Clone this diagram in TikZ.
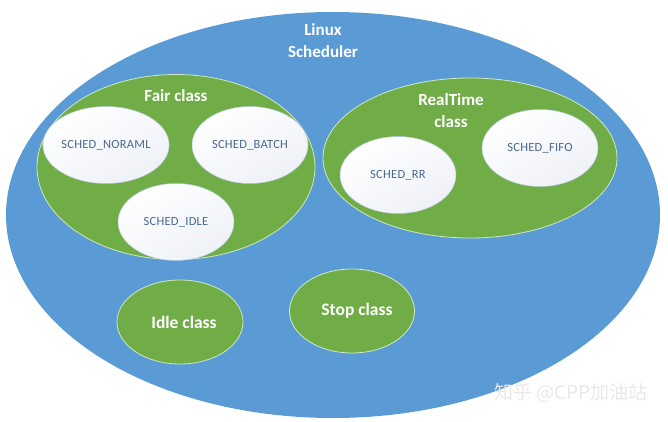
\documentclass[tikz,border=0pt]{standalone}
\usepackage{fontspec}
\setmainfont{Carlito}
\newfontfamily\cjkfont{Noto Sans CJK SC}
\usetikzlibrary{shapes.geometric}

\definecolor{schedblue}{HTML}{5B9BD5}
\definecolor{classgreen}{HTML}{70AD47}
\definecolor{classedge}{HTML}{CFE6C0}
\definecolor{policyedge}{HTML}{B7C8DB}
\definecolor{policyshade}{HTML}{EEF1F7}
\definecolor{policytext}{HTML}{4A6890}

\begin{document}
\begin{tikzpicture}[x = 1pt, y = -1pt,
	sched/.style = {ellipse, fill = schedblue, inner sep = 0pt},
	class/.style = {ellipse, fill = classgreen, draw = classedge, line width = 0.8pt, inner sep = 0pt,
		text = white, font = \bfseries\fontsize{17.5}{22}\selectfont},
	policy/.style = {ellipse, draw = policyedge, line width = 0.5pt, top color = white, bottom color = policyshade,
		shading angle = 30, minimum width = 116pt, minimum height = 77pt, inner sep = 0pt,
		text = policytext, font = \fontsize{12.5}{15}\selectfont\addfontfeatures{LetterSpace = 2}},
	title/.style = {text = white, font = \bfseries\fontsize{17}{22}\selectfont, align = center}]

	% Canvas
	
	\useasboundingbox (0, 0) rectangle (668, 422);
	
	% Scheduler
	
	\node [sched, minimum width = 654pt, minimum height = 406pt] (linux) at (333, 215) {};
	\node [title] (linuxtitle) at (323, 41) {Linux\\Scheduler};
	
	% Fair class
	
	\node [class, minimum width = 278pt, minimum height = 185pt] (fair) at (176, 167) {};
	\node [title] (fairtitle) at (176, 96) {Fair class};
	
	% RealTime class
	
	\node [class, minimum width = 294pt, minimum height = 160pt] (realtime) at (470, 158) {};
	\node [title] (rttitle) at (451, 111) {RealTime\\class};
	
	% Policies
	
	\foreach \name/\x/\y/\policy in {normal/106/145/SCHED\_NORAML, batch/250/145/SCHED\_BATCH,
		idle/176/222/SCHED\_IDLE, rr/398/175/SCHED\_RR, fifo/540/148/SCHED\_FIFO}
		\node [policy] (\name) at (\x, \y) {\policy};
	
	% Idle + Stop class
	
	\node [class, minimum width = 126pt, minimum height = 84pt] (idleclass) at (180, 322) {\hspace{8pt}Idle class};
	\node [class, minimum width = 125pt, minimum height = 84pt] (stopclass) at (352, 311) {\hspace{10pt}Stop class};
	
	% Watermark
	
	\node [text = white!82!gray, font = \cjkfont\fontsize{19}{22}\selectfont] (zhihu) at (571, 393) {知乎 @CPP加油站};
	
\end{tikzpicture}
\end{document}
